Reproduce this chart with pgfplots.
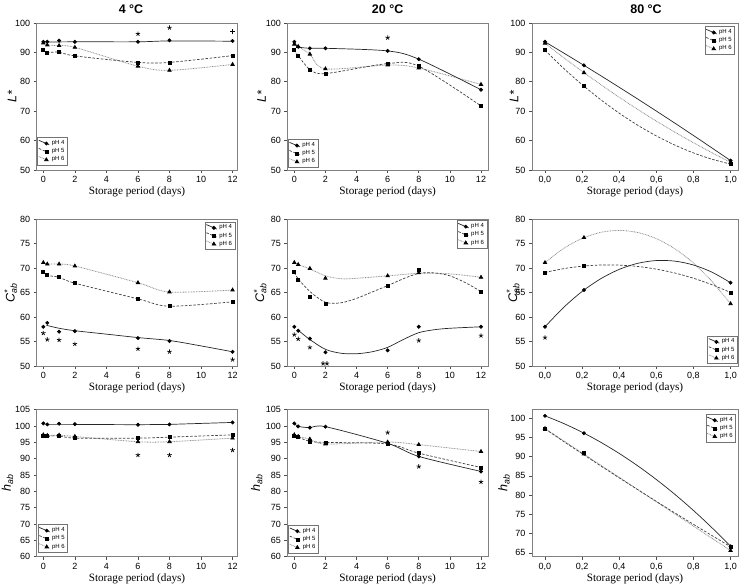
\documentclass[border=0pt]{standalone}
\usepackage{fontspec}
\setmainfont{Liberation Serif}
\newfontfamily\arial{Liberation Sans}
\usepackage{pgfplots}
\usepackage{pgfplotstable}
\pgfplotsset{compat=1.18}

% measured values, 4 and 20 C: days 0, 0.25, 1, 2, 6, 8, 12
\pgfplotstableread{
x p4 p5 p6
0 93.6 90.8 93.2
0.25 93.6 90.0 92.5
1 94.0 90.1 92.3
2 93.6 88.8 91.7
6 93.6 86.6 85.3
8 94.1 86.6 83.9
12 93.9 88.9 85.9
}\tabA
\pgfplotstableread{
x p4 p5 p6
0 93.6 90.8 92.8
0.25 91.9 88.9 92.0
1 91.4 84.2 89.4
2 91.4 82.8 84.4
6 90.5 86.2 85.7
8 87.7 85.3 84.7
12 77.3 71.8 79.1
}\tabB
\pgfplotstableread{
x p4 p5 p6
0 93.6 90.7 93.1
0.21 85.6 78.5 83.1
1 53.2 52.0 52.6
}\tabC
\pgfplotstableread{
x p4 p5 p6
0 58.0 69.2 71.1
0.25 58.8 68.5 70.8
1 57.0 68.1 70.8
2 57.1 66.9 70.4
6 55.7 63.7 67.0
8 55.1 62.2 65.1
12 52.9 63.1 65.5
}\tabD
\pgfplotstableread{
x p4 p5 p6
0 58.0 69.2 71.1
0.25 57.2 67.6 70.7
1 55.6 64.2 69.9
2 52.8 62.6 67.9
6 53.2 66.3 68.4
8 58.0 69.7 69.0
12 58.0 65.2 68.1
}\tabE
\pgfplotstableread{
x p4 p5 p6
0 58.0 69.1 71.1
0.21 65.5 70.4 76.2
1 67.0 65.0 62.7
}\tabF
\pgfplotstableread{
x p4 p5 p6
0 100.8 97.0 97.3
0.25 100.5 96.9 97.1
1 100.7 97.0 97.2
2 100.6 96.3 96.8
6 100.4 96.3 95.2
8 100.5 96.6 95.2
12 101.1 97.3 96.3
}\tabG
\pgfplotstableread{
x p4 p5 p6
0 100.8 97.0 97.3
0.25 99.9 96.6 96.8
1 99.5 95.3 96.0
2 99.8 95.0 94.5
6 94.7 94.5 95.1
8 90.7 91.7 94.3
12 86.1 87.3 92.2
}\tabH
\pgfplotstableread{
x p4 p5 p6
0 100.6 97.2 97.3
0.21 96.1 91.1 90.7
1 66.7 66.6 65.6
}\tabI

% fitted curves as drawn (80 C panels)
\pgfplotstableread{
x p4 p5 p6
0 93.6 90.7 93.1
0.1 89.82 84.62 88.24
0.2 85.98 79.03 83.56
0.3 82.09 73.93 79.06
0.4 78.13 69.33 74.74
0.5 74.12 65.21 70.60
0.6 70.05 61.59 66.64
0.7 65.92 58.46 62.86
0.8 61.73 55.81 59.27
0.9 57.48 53.66 55.85
1 53.2 52.0 52.6
}\curC
\pgfplotstableread{
x p4 p5 p6
0 58.0 69.1 71.1
0.1 61.94 69.86 73.98
0.2 65.21 70.37 76.04
0.3 67.80 70.61 77.27
0.4 69.72 70.59 77.67
0.5 70.96 70.31 77.24
0.6 71.52 69.77 75.99
0.7 71.40 68.97 73.91
0.8 70.61 67.91 71.00
0.9 69.14 66.58 67.26
1 67.0 65.0 62.7
}\curF
\pgfplotstableread{
x p4 p5 p6
0 100.6 97.2 97.3
0.1 98.63 93.96 94.13
0.2 96.35 90.77 90.96
0.3 93.75 87.61 87.79
0.4 90.83 84.49 84.62
0.5 87.60 81.41 81.45
0.6 84.05 78.37 78.28
0.7 80.19 75.36 75.11
0.8 76.01 72.40 71.94
0.9 71.51 69.48 68.77
1 66.7 66.6 65.6
}\curI

\pgfplotsset{
  panel/.style={
    scale only axis, anchor=south west,
    axis line style={draw=black!50, line width=0.8pt},
    tick align=outside, tick pos=left, major tick length=3pt,
    every tick/.style={black!70, line width=0.6pt},
    tick label style={font=\arial\fontsize{9}{9}\selectfont},
    /pgf/number format/assume math mode=true,
    every axis x label/.style={at={(axis description cs:0.5,0)}, anchor=center, yshift=-21.7pt},
    every axis y label/.style={rotate=90, anchor=center},
    xlabel style={font=\fontsize{11.2}{12}\selectfont},
    ylabel style={font=\arial\itshape\fontsize{12.5}{13}\selectfont},
    xlabel={Storage period (days)},
    every axis title shift=0pt,
    title style={font=\arial\bfseries\fontsize{12.5}{13}\selectfont, at={(0.5,1)}, anchor=base, yshift=9.5pt},
    legend cell align=left,
    legend style={font=\arial\fontsize{6}{6.5}\selectfont, draw=black!55, line width=0.5pt,
      inner sep=0.9pt, row sep=-1.5pt, cells={anchor=west}},
    legend image code/.code={\draw[mark repeat=2,mark phase=2,##1]
      plot coordinates {(0pt,3pt) (7.5pt,-0.2pt) (10.5pt,-1.5pt)};},
  },
  c1/.style={width=200.6pt, xmin=-0.42, xmax=12.3, xtick={0,2,4,6,8,10,12}},
  c2/.style={width=200.7pt, xmin=-0.45, xmax=12.45, xtick={0,2,4,6,8,10,12}},
  c3/.style={width=206pt, xmin=-0.07, xmax=1.04, xtick={0,0.2,0.4,0.6,0.8,1},
    xticklabel style={/pgf/number format/.cd, fixed, fixed zerofill, precision=1, use comma}},
  rL/.style={height=147pt, ymin=50, ymax=100, ytick={50,60,70,80,90,100}, ylabel={L*}},
  rC/.style={height=147pt, ymin=50, ymax=80, ytick={50,55,60,65,70,75,80},
    ylabel={C\rlap{\textsuperscript{*}}\textsubscript{ab}}},
  rH/.style={height=147pt, ymin=60, ymax=105, ytick={60,65,70,75,80,85,90,95,100,105},
    ylabel={h\textsubscript{ab}}},
  s4/.style={black!85, solid, line width=0.7pt, mark=*, mark size=1.6pt,
    mark options={solid, fill=black, draw=black}},
  s5/.style={black!75, line width=0.7pt, dash pattern=on 2.6pt off 1.6pt, mark=square*, mark size=1.5pt,
    mark options={solid, fill=black, draw=black}},
  s6/.style={black!45, line width=0.8pt, dash pattern=on 0.8pt off 0.8pt, mark=triangle*, mark size=1.9pt,
    mark options={solid, fill=black, draw=black}},
  sig/.style={only marks, mark=star, mark size=2.3pt, black, line width=0.7pt, forget plot},
}

\begin{document}
\begin{tikzpicture}
\useasboundingbox (0,0) rectangle (739pt,585pt);

% ---- L* ----
\begin{axis}[panel, c1, rL, at={(36.7pt,415pt)}, title={4 °C}, title style={xshift=-6pt},
  ylabel style={at={(axis description cs:-0.123,0.5)}},
  legend style={at={(0.003,0.03)}, anchor=south west}]
\addlegendimage{s4}\addlegendimage{s5}\addlegendimage{s6}
\addplot[s6, smooth, forget plot] table[y=p6] {\tabA};
\addplot[s5, smooth, forget plot] table[y=p5] {\tabA};
\addplot[s4, no marks, smooth, forget plot] coordinates {(0,93.5) (2,93.6) (6,93.6) (8,93.9) (12,93.8)};
\addplot[s4, only marks, forget plot] table[y=p4] {\tabA};
\addplot[sig] coordinates {(6,96.3) (8,98.4)};
\addplot[sig, mark=+, mark size=2.4pt] coordinates {(12,97.0)};
\legend{pH 4, pH 5, pH 6}
\end{axis}

\begin{axis}[panel, c2, rL, at={(287.3pt,415pt)}, title={20 °C},
  ylabel style={at={(axis description cs:-0.128,0.5)}},
  legend style={at={(0.003,0.016)}, anchor=south west}]
\addlegendimage{s4}\addlegendimage{s5}\addlegendimage{s6}
\addplot[s6, smooth, forget plot] table[y=p6] {\tabB};
\addplot[s5, smooth, forget plot] table[y=p5] {\tabB};
\addplot[s4, smooth, forget plot] table[y=p4] {\tabB};
\addplot[sig] coordinates {(6,95.0)};
\legend{pH 4, pH 5, pH 6}
\end{axis}

\begin{axis}[panel, c3, rL, at={(532pt,415pt)}, title={80 °C}, title style={xshift=11pt},
  ylabel style={at={(axis description cs:-0.087,0.5)}},
  legend style={at={(0.985,0.977)}, anchor=north east}]
\addlegendimage{s4}\addlegendimage{s5}\addlegendimage{s6}
\addplot[s6, no marks, smooth, forget plot] table[y=p6] {\curC};
\addplot[s5, no marks, smooth, forget plot] table[y=p5] {\curC};
\addplot[s4, no marks, smooth, forget plot] table[y=p4] {\curC};
\addplot[s6, only marks, forget plot] table[y=p6] {\tabC};
\addplot[s5, only marks, forget plot] table[y=p5] {\tabC};
\addplot[s4, only marks, forget plot] table[y=p4] {\tabC};
\legend{pH 4, pH 5, pH 6}
\end{axis}

% ---- C*ab ----
\begin{axis}[panel, c1, rC, at={(36.7pt,219pt)},
  ylabel style={at={(axis description cs:-0.13,0.5)}},
  legend style={at={(0.989,0.982)}, anchor=north east}]
\addlegendimage{s4}\addlegendimage{s5}\addlegendimage{s6}
\addplot[s6, smooth, forget plot] table[y=p6] {\tabD};
\addplot[s5, smooth, forget plot] table[y=p5] {\tabD};
\addplot[s4, no marks, smooth, forget plot] coordinates {(0.2,58.3) (1,57.7) (2,57.2) (4,56.5) (6,55.8) (8,55.2) (10,54.1) (12,52.9)};
\addplot[s4, only marks, forget plot] table[y=p4] {\tabD};
\addplot[sig] coordinates {(0,56.7) (0.25,55.4) (1,55.3) (2,54.5) (6,53.5) (8,52.9) (12,51.3)};
\legend{pH 4, pH 5, pH 6}
\end{axis}

\begin{axis}[panel, c2, rC, at={(287.3pt,219pt)},
  ylabel style={at={(axis description cs:-0.135,0.5)}},
  legend style={at={(0.995,0.99)}, anchor=north east}]
\addlegendimage{s4}\addlegendimage{s5}\addlegendimage{s6}
\addplot[s6, no marks, smooth, forget plot] coordinates {(0,71.0) (0.25,70.7) (1,69.8) (2,68.4) (3,67.8) (4,67.9) (6,68.4) (8,68.9) (10,68.8) (12,68.1)};
\addplot[s5, no marks, smooth, forget plot] coordinates {(0,69.1) (0.25,67.8) (1,65.2) (2,63.0) (3,62.9) (4,63.8) (5,65.1) (6,66.4) (7,67.8) (8,68.9) (9,69.0) (10,68.4) (11,67.0) (12,65.2)};
\addplot[s4, no marks, smooth, forget plot] coordinates {(0.25,57.3) (1,55.4) (2,53.4) (3,52.6) (4,52.5) (5,52.9) (6,53.8) (7,55.4) (8,56.8) (9,57.4) (10,57.7) (12,58.0)};
\addplot[s6, only marks, forget plot] table[y=p6] {\tabE};
\addplot[s5, only marks, forget plot] table[y=p5] {\tabE};
\addplot[s4, only marks, forget plot] table[y=p4] {\tabE};
\addplot[sig] coordinates {(0,56.4) (0.25,55.5) (1,53.8) (1.85,50.5) (2.1,50.5) (8,55.2) (12,56.2)};
\legend{pH 4, pH 5, pH 6}
\end{axis}

\begin{axis}[panel, c3, rC, at={(532pt,219pt)},
  ylabel style={at={(axis description cs:-0.092,0.5)}},
  legend style={at={(0.998,0.014)}, anchor=south east}]
\addlegendimage{s4}\addlegendimage{s5}\addlegendimage{s6}
\addplot[s6, no marks, smooth, forget plot] table[y=p6] {\curF};
\addplot[s5, no marks, smooth, forget plot] table[y=p5] {\curF};
\addplot[s4, no marks, smooth, forget plot] table[y=p4] {\curF};
\addplot[s6, only marks, forget plot] table[y=p6] {\tabF};
\addplot[s5, only marks, forget plot] table[y=p5] {\tabF};
\addplot[s4, only marks, forget plot] table[y=p4] {\tabF};
\addplot[sig] coordinates {(0,55.8)};
\legend{pH 4, pH 5, pH 6}
\end{axis}

% ---- h_ab ----
\begin{axis}[panel, c1, rH, at={(36.7pt,28.3pt)},
  ylabel style={at={(axis description cs:-0.145,0.5)}},
  legend style={at={(0.005,0.027)}, anchor=south west}]
\addlegendimage{s4}\addlegendimage{s5}\addlegendimage{s6}
\addplot[s6, smooth, forget plot] table[y=p6] {\tabG};
\addplot[s5, smooth, forget plot] table[y=p5] {\tabG};
\addplot[s4, no marks, forget plot] coordinates {(0.25,100.5) (2,100.5) (6,100.4) (8,100.5) (12,101.1)};
\addplot[s4, only marks, forget plot] table[y=p4] {\tabG};
\addplot[sig] coordinates {(6,91.1) (8,91.1) (12,92.6)};
\legend{pH 4, pH 5, pH 6}
\end{axis}

\begin{axis}[panel, c2, rH, at={(287.3pt,28.3pt)},
  ylabel style={at={(axis description cs:-0.152,0.5)}},
  legend style={at={(0.005,0.023)}, anchor=south west}]
\addlegendimage{s4}\addlegendimage{s5}\addlegendimage{s6}
\addplot[s6, smooth, forget plot] table[y=p6] {\tabH};
\addplot[s5, smooth, forget plot] table[y=p5] {\tabH};
\addplot[s4, smooth, forget plot] table[y=p4] {\tabH};
\addplot[sig] coordinates {(6,98.0) (8,87.6) (12,82.9)};
\legend{pH 4, pH 5, pH 6}
\end{axis}

\begin{axis}[panel, c3, rH, at={(532pt,28.3pt)}, ymin=64, ymax=102.2, ytick={65,70,75,80,85,90,95,100},
  ylabel style={at={(axis description cs:-0.136,0.5)}},
  legend style={at={(0.99,0.97)}, anchor=north east}]
\addlegendimage{s4}\addlegendimage{s5}\addlegendimage{s6}
\addplot[s6, no marks, smooth, forget plot] table[y=p6] {\curI};
\addplot[s5, no marks, smooth, forget plot] table[y=p5] {\curI};
\addplot[s4, no marks, smooth, forget plot] table[y=p4] {\curI};
\addplot[s6, only marks, forget plot] table[y=p6] {\tabI};
\addplot[s5, only marks, forget plot] table[y=p5] {\tabI};
\addplot[s4, only marks, forget plot] table[y=p4] {\tabI};
\legend{pH 4, pH 5, pH 6}
\end{axis}

\end{tikzpicture}
\end{document}
